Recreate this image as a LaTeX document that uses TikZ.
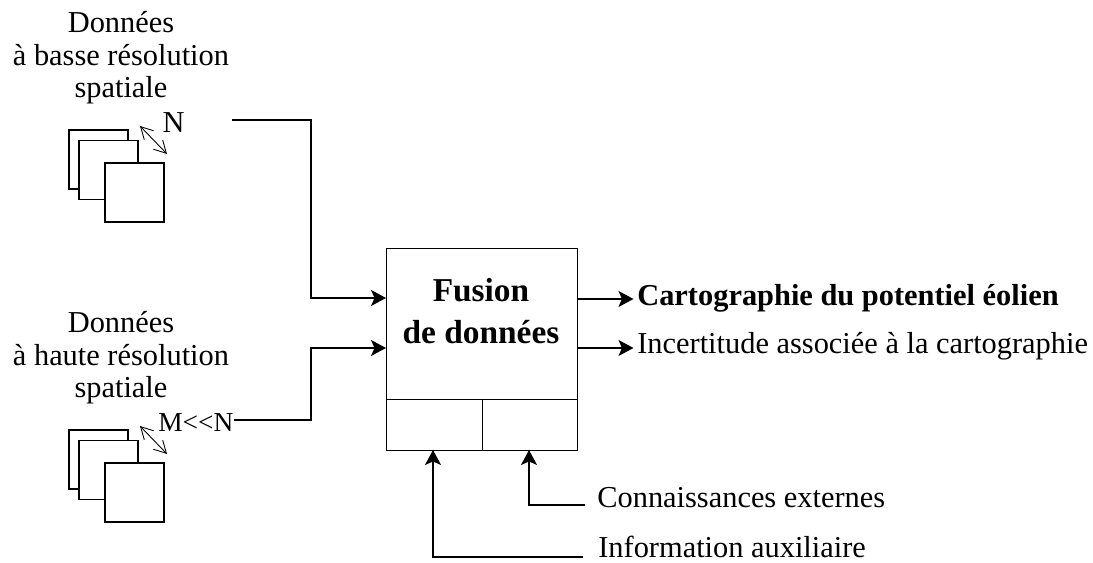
\documentclass[tikz,border=0pt]{standalone}
\usepackage{fontspec}
\setmainfont{Liberation Serif}
\usetikzlibrary{arrows.meta}
\tikzset{
    feuille/.style={draw,line width=0.7pt,fill=white,minimum size=1.18cm,inner sep=0},
    cellule/.style={draw,line width=0.7pt,anchor=north west,inner sep=0},
    fleche/.style={line width=0.7pt,-{Stealth[length=3mm,width=3.2mm,inset=0.7mm]}},
    flechefine/.style={line width=0.5pt,{Straight Barb[length=2.4mm,width=2.6mm]}-{Straight Barb[length=2.4mm,width=2.6mm]}},
    texte/.style={font=\fontsize{17.3pt}{19pt}\selectfont,inner sep=0},
    titre/.style={texte,anchor=base},
    gras/.style={font=\fontsize{19pt}{21pt}\selectfont\bfseries,inner sep=0,anchor=base}
}
\begin{document}
\begin{tikzpicture}[x=0.02cm,y=-0.02cm]
    \pgfmathsetmacro{\boxwidth}{191*0.02}
    \pgfmathsetmacro{\boxheight}{151*0.02}
    \pgfmathsetmacro{\cellwidth}{95.5*0.02}
    \pgfmathsetmacro{\cellheight}{51*0.02}
    \useasboundingbox (0,0) rectangle (1093,563);
    % basse resolution
    \node[titre] (titrebasse) at (121,33) {Données};
    \node[titre] (titrebasse2) at (121,66) {à basse résolution};
    \node[titre] (titrebasse3) at (121,98) {spatiale};
    \node[feuille] (basse1) at (98.5,159.5) {};
    \node[feuille] (basse2) at (108.5,170) {};
    \node[feuille] (basse3) at (134.5,192.5) {};
    \coordinate (nhaut) at (140,126);
    \coordinate (nbas) at (167,154);
    \draw[flechefine] (nhaut) -- (nbas);
    \node[texte,anchor=base] (n) at (173.5,133) {N};
    % haute resolution
    \node[titre] (titrehaute) at (121,333) {Données};
    \node[titre] (titrehaute2) at (121,366) {à haute résolution};
    \node[titre] (titrehaute3) at (121,398) {spatiale};
    \node[feuille] (haute1) at (98.5,459.5) {};
    \node[feuille] (haute2) at (108.5,470) {};
    \node[feuille] (haute3) at (134.5,492.5) {};
    \coordinate (mhaut) at (140,426);
    \coordinate (mbas) at (167,454);
    \draw[flechefine] (mhaut) -- (mbas);
    \node[font=\fontsize{15.6pt}{17pt}\selectfont,inner sep=0,anchor=base west] (mn) at (158,432) {M<{}<N};
    % fusion
    \node[cellule,minimum width=\boxwidth cm,minimum height=\boxheight cm] (fusion) at (386,248) {};
    \node[cellule,minimum width=\cellwidth cm,minimum height=\cellheight cm] (aux) at (386,399) {};
    \node[cellule,minimum width=\cellwidth cm,minimum height=\cellheight cm] (ext) at (481.5,399) {};
    \node[gras] (fusion1) at (481,302) {Fusion};
    \node[gras] (fusion2) at (481,344) {de données};
    % sorties
    \node[texte,anchor=base west] (carto) at (637,306) {\bfseries Cartographie du potentiel éolien};
    \node[texte,anchor=base west] (incert) at (637,354) {Incertitude associée à la cartographie};
    \node[texte,anchor=base west] (connais) at (597,508) {Connaissances externes};
    \node[texte,anchor=base west] (info) at (598,558) {Information auxiliaire};
    % liaisons
    \coordinate (depart) at (232,120);
    \coordinate (entree1) at (386,298);
    \coordinate (entree2) at (386,348);
    \coordinate (sortie1) at (577,299);
    \coordinate (sortie2) at (577,348);
    \coordinate (finconnais) at (585,505);
    \coordinate (fininfo) at (583,557);
    \draw[fleche] (depart) -- (311,120) |- (entree1);
    \draw[fleche] (mn.east |- 0,420) -- (311,420) |- (entree2);
    \draw[fleche,shorten >=2pt] (sortie1) -- (carto.west |- sortie1);
    \draw[fleche,shorten >=2pt] (sortie2) -- (incert.west |- sortie2);
    \draw[fleche] (finconnais) -- (529,505) -- (529,450);
    \draw[fleche] (fininfo) -- (433,557) -- (433,450);
\end{tikzpicture}
\end{document}
